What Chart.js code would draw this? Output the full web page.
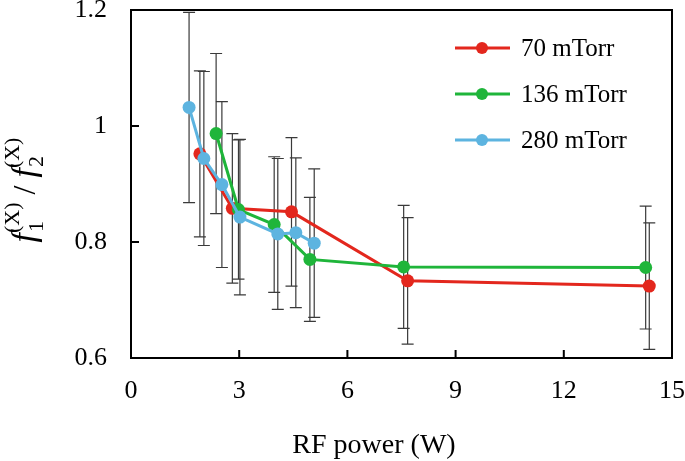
<!DOCTYPE html>
<html>
<head>
<meta charset="utf-8">
<script src="https://cdn.jsdelivr.net/npm/chart.js@4/dist/chart.umd.min.js"></script>
<style>
    html, body { margin: 0; padding: 0; background: #fff; }
    #wrap { width: 685px; height: 461px; }
</style>
</head>
<body>
<div id="wrap"><canvas id="ratioChart" width="685" height="461"></canvas></div>
<script>
// --- Data ---
const seriesLabels = ['70 mTorr', '136 mTorr', '280 mTorr'];
const seriesColors = ['#e3271d', '#1fb53a', '#5db4e0'];

const powerRed = [1.91, 2.81, 4.45, 7.67, 14.37];
const ratioRed = [0.952, 0.858, 0.852, 0.733, 0.724];
const errRed = [0.143, 0.129, 0.128, 0.109, 0.109];

const powerGreen = [2.36, 2.98, 3.97, 4.96, 7.56, 14.27];
const ratioGreen = [0.987, 0.856, 0.830, 0.770, 0.757, 0.756];
const errGreen = [0.138, 0.120, 0.117, 0.107, 0.106, 0.106];

const powerBlue = [1.61, 2.02, 2.52, 3.02, 4.07, 4.57, 5.08];
const ratioBlue = [1.032, 0.944, 0.899, 0.843, 0.814, 0.816, 0.798];
const errBlue = [0.164, 0.150, 0.143, 0.134, 0.130, 0.129, 0.128];

const xTicks = [0, 3, 6, 9, 12, 15];
const yTicks = [0.6, 0.8, 1, 1.2];
const xTitle = 'RF power (W)';

const FONT = "'Liberation Serif', 'Times New Roman', serif";

function toPoints(xs, ys, es) {
    return xs.map((x, i) => ({ x: x, y: ys[i], err: es[i] }));
}

// --- Error bars, drawn under the lines ---
const errorBars = {
    id: 'errorBars',
    beforeDatasetsDraw(chart) {
        const ctx = chart.ctx;
        const yScale = chart.scales.y;
        const xScale = chart.scales.x;
        ctx.save();
        ctx.strokeStyle = '#3a3a3a';
        ctx.lineWidth = 1.2;
        chart.data.datasets.forEach(ds => {
            ds.data.forEach(p => {
                const px = xScale.getPixelForValue(p.x);
                const top = yScale.getPixelForValue(p.y + p.err);
                const bot = yScale.getPixelForValue(p.y - p.err);
                ctx.beginPath();
                ctx.moveTo(px, top); ctx.lineTo(px, bot);
                ctx.moveTo(px - 6, top); ctx.lineTo(px + 6, top);
                ctx.moveTo(px - 6, bot); ctx.lineTo(px + 6, bot);
                ctx.stroke();
            });
        });
        ctx.restore();
    }
};

// --- Frame, inward ticks, legend and axis titles ---
const decorations = {
    id: 'decorations',
    afterDraw(chart) {
        const ctx = chart.ctx;
        const a = chart.chartArea;
        const xs = chart.scales.x, ys = chart.scales.y;
        ctx.save();
        ctx.strokeStyle = '#000';
        ctx.lineWidth = 2;
        ctx.strokeRect(a.left, a.top, a.right - a.left, a.bottom - a.top);

        ctx.beginPath();
        xTicks.slice(1, -1).forEach(v => {
            const px = xs.getPixelForValue(v);
            ctx.moveTo(px, a.bottom); ctx.lineTo(px, a.bottom - 8);
        });
        yTicks.slice(1, -1).forEach(v => {
            const py = ys.getPixelForValue(v);
            ctx.moveTo(a.left, py); ctx.lineTo(a.left + 8, py);
        });
        ctx.stroke();

        // legend inside the plot
        chart.data.datasets.forEach((ds, i) => {
            const y = 48 + i * 46;
            ctx.strokeStyle = ds.borderColor;
            ctx.lineWidth = 3;
            ctx.beginPath();
            ctx.moveTo(455, y); ctx.lineTo(510, y);
            ctx.stroke();
            ctx.fillStyle = ds.borderColor;
            ctx.beginPath();
            ctx.arc(482, y, 6, 0, Math.PI * 2);
            ctx.fill();
            ctx.fillStyle = '#000';
            ctx.font = '25px ' + FONT;
            ctx.textBaseline = 'middle';
            ctx.textAlign = 'left';
            ctx.fillText(ds.label, 521, y + 1);
        });

        // x axis title
        ctx.fillStyle = '#000';
        ctx.font = '28px ' + FONT;
        ctx.textAlign = 'center';
        ctx.textBaseline = 'alphabetic';
        ctx.fillText(xTitle, 374, 453);

        // y axis title: f1(X) / f2(X)
        ctx.translate(35, 190);
        ctx.rotate(-Math.PI / 2);
        ctx.textAlign = 'left';
        const big = 'italic 34px ' + FONT;
        const small = '22px ' + FONT;
        const parts = [
            { t: 'f', f: big, dy: 0 },
            { t: '1', f: small, dy: 8, sub: true },
            { t: '(X)', f: small, dy: -16, sup: true },
            { t: ' / ', f: '32px ' + FONT, dy: 0 },
            { t: 'f', f: big, dy: 0 },
            { t: '2', f: small, dy: 8, sub: true },
            { t: '(X)', f: small, dy: -16, sup: true }
        ];
        // measure total width, sub and sup share the same x start
        let width = 0, subStart = 0, subW = 0;
        parts.forEach(p => {
            ctx.font = p.f;
            const w = ctx.measureText(p.t).width;
            if (p.sub) { subStart = width; subW = w; width += w; }
            else if (p.sup) { width = subStart + Math.max(subW, w); }
            else width += w;
        });
        let x = -width / 2;
        let start = 0, sw = 0;
        parts.forEach(p => {
            ctx.font = p.f;
            const w = ctx.measureText(p.t).width;
            if (p.sub) { start = x; sw = w; ctx.fillText(p.t, x + 1, p.dy); x += w; }
            else if (p.sup) { ctx.fillText(p.t, start, p.dy); x = start + Math.max(sw, w); }
            else { ctx.fillText(p.t, x, p.dy); x += w; }
        });
        ctx.restore();
    }
};

const datasets = [
    { label: seriesLabels[0], data: toPoints(powerRed, ratioRed, errRed), order: 3 },
    { label: seriesLabels[1], data: toPoints(powerGreen, ratioGreen, errGreen), order: 2 },
    { label: seriesLabels[2], data: toPoints(powerBlue, ratioBlue, errBlue), order: 1 }
].map((ds, i) => Object.assign(ds, {
    showLine: true,
    borderColor: seriesColors[i],
    backgroundColor: seriesColors[i],
    pointBackgroundColor: seriesColors[i],
    pointBorderWidth: 0,
    pointRadius: 6.5,
    borderWidth: 3,
    tension: 0
}));

new Chart(document.getElementById('ratioChart'), {
    type: 'scatter',
    data: { datasets: datasets },
    options: {
        responsive: false,
        animation: false,
        layout: { padding: { top: 10, right: 13, left: 0, bottom: 0 } },
        plugins: {
            legend: { display: false },
            tooltip: { enabled: false }
        },
        scales: {
            x: {
                min: 0, max: 15,
                afterFit: s => { s.height = 103; s.paddingLeft = 0; s.paddingRight = 0; },
                afterBuildTicks: s => { s.ticks = xTicks.map(v => ({ value: v })); },
                grid: { display: false, drawTicks: false },
                border: { display: false },
                ticks: { color: '#000', font: { family: FONT, size: 26 }, padding: 18, maxRotation: 0 }
            },
            y: {
                min: 0.6, max: 1.2,
                afterFit: s => { s.width = 131; s.paddingTop = 0; s.paddingBottom = 0; },
                afterBuildTicks: s => { s.ticks = yTicks.map(v => ({ value: v })); },
                grid: { display: false, drawTicks: false },
                border: { display: false },
                ticks: { color: '#000', font: { family: FONT, size: 26 }, padding: 24, callback: v => String(v) }
            }
        }
    },
    plugins: [errorBars, decorations]
});
</script>
</body>
</html>
